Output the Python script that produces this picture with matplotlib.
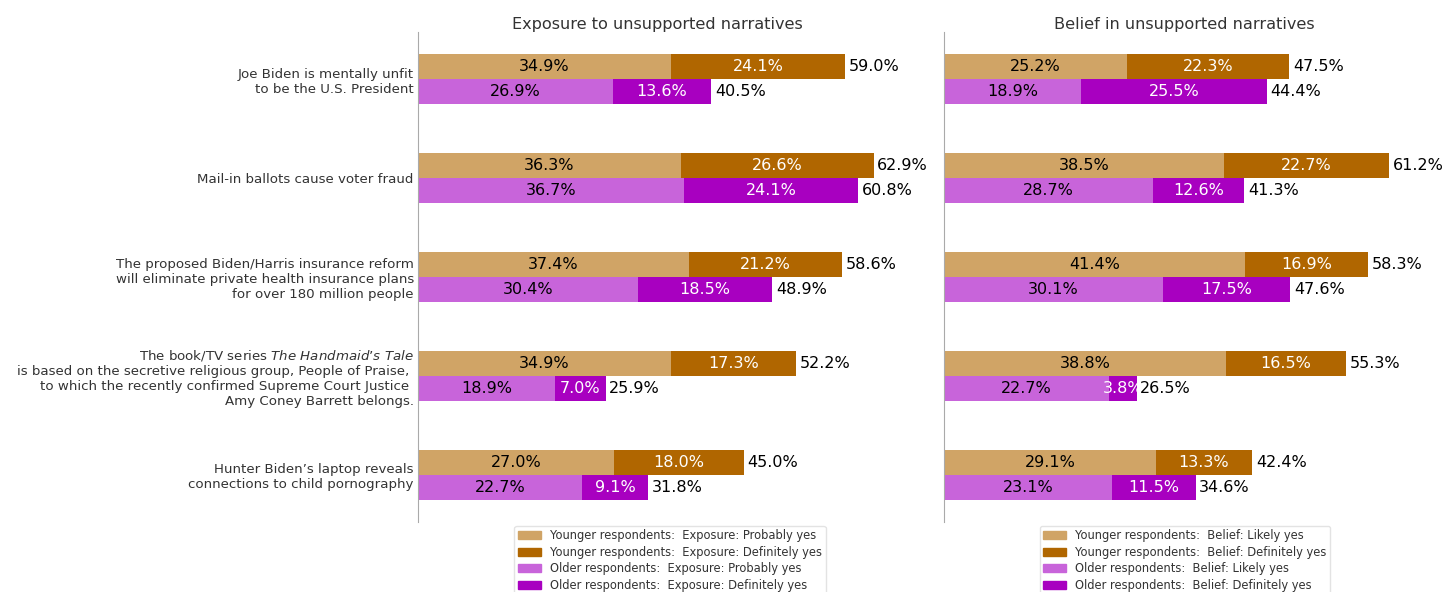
import matplotlib
matplotlib.use("Agg")
import matplotlib.pyplot as plt
from matplotlib.patches import Patch
import numpy as np

plt.rcParams['font.family'] = ['DejaVu Sans']
plt.rcParams['mathtext.fontset'] = 'dejavusans'

categories = [
    "Joe Biden is mentally unfit\nto be the U.S. President",
    "Mail-in ballots cause voter fraud",
    "The proposed Biden/Harris insurance reform\nwill eliminate private health insurance plans\nfor over 180 million people",
    "The book/TV series $\\it{The\\ Handmaid’s\\ Tale}$\nis based on the secretive religious group, People of Praise, \nto which the recently confirmed Supreme Court Justice \nAmy Coney Barrett belongs.",
    "Hunter Biden’s laptop reveals\nconnections to child pornography",
]

exp_young_prob = [34.9, 36.3, 37.4, 34.9, 27.0]
exp_young_def = [24.1, 26.6, 21.2, 17.3, 18.0]
exp_young_total = [59.0, 62.9, 58.6, 52.2, 45.0]
exp_old_prob = [26.9, 36.7, 30.4, 18.9, 22.7]
exp_old_def = [13.6, 24.1, 18.5, 7.0, 9.1]
exp_old_total = [40.5, 60.8, 48.9, 25.9, 31.8]

bel_young_prob = [25.2, 38.5, 41.4, 38.8, 29.1]
bel_young_def = [22.3, 22.7, 16.9, 16.5, 13.3]
bel_young_total = [47.5, 61.2, 58.3, 55.3, 42.4]
bel_old_prob = [18.9, 28.7, 30.1, 22.7, 23.1]
bel_old_def = [25.5, 12.6, 17.5, 3.8, 11.5]
bel_old_total = [44.4, 41.3, 47.6, 26.5, 34.6]

titles = ["Exposure to unsupported narratives", "Belief in unsupported narratives"]
legend_labels = [
    ["Younger respondents:  Exposure: Probably yes",
     "Younger respondents:  Exposure: Definitely yes",
     "Older respondents:  Exposure: Probably yes",
     "Older respondents:  Exposure: Definitely yes"],
    ["Younger respondents:  Belief: Likely yes",
     "Younger respondents:  Belief: Definitely yes",
     "Older respondents:  Belief: Likely yes",
     "Older respondents:  Belief: Definitely yes"],
]

c_yp = "#D0A466"
c_yd = "#B06600"
c_op = "#C864DA"
c_od = "#A800C0"

fig = plt.figure(figsize=(14.43, 5.92), dpi=100)
ax1 = fig.add_axes([418/1443, 1-522/592, 478/1443, 490/592])
ax2 = fig.add_axes([944/1443, 1-522/592, 480/1443, 490/592])

y = np.arange(len(categories))
h = 0.25
lab_fs = 11.5

panels = [
    (ax1, exp_young_prob, exp_young_def, exp_young_total, exp_old_prob, exp_old_def, exp_old_total),
    (ax2, bel_young_prob, bel_young_def, bel_young_total, bel_old_prob, bel_old_def, bel_old_total),
]

for i, (ax, yp, yd, yt, op, od, ot) in enumerate(panels):
    yy = y - h/2
    yo = y + h/2
    ax.barh(yy, yp, height=h, color=c_yp)
    ax.barh(yy, yd, left=yp, height=h, color=c_yd)
    ax.barh(yo, op, height=h, color=c_op)
    ax.barh(yo, od, left=op, height=h, color=c_od)
    for k in range(len(categories)):
        ax.text(yp[k]/2, yy[k], f"{yp[k]:.1f}%", ha='center', va='center', fontsize=lab_fs, color='black')
        ax.text(yp[k] + yd[k]/2, yy[k], f"{yd[k]:.1f}%", ha='center', va='center', fontsize=lab_fs, color='white')
        ax.text(yp[k] + yd[k] + 0.5, yy[k], f"{yt[k]:.1f}%", ha='left', va='center', fontsize=lab_fs, color='black')
        ax.text(op[k]/2, yo[k], f"{op[k]:.1f}%", ha='center', va='center', fontsize=lab_fs, color='black')
        ax.text(op[k] + od[k]/2, yo[k], f"{od[k]:.1f}%", ha='center', va='center', fontsize=lab_fs, color='white')
        ax.text(op[k] + od[k] + 0.5, yo[k], f"{ot[k]:.1f}%", ha='left', va='center', fontsize=lab_fs, color='black')
    ax.set_xlim(0, 66)
    ax.set_ylim(len(categories) - 1 + 0.475, -0.475)
    ax.set_xticks([])
    for s in ['top', 'right', 'bottom']:
        ax.spines[s].set_visible(False)
    ax.spines['left'].set_color('#aaaaaa')
    ax.set_title(titles[i], fontsize=11.6, color='#333333', pad=2)
    handles = [Patch(color=c) for c in (c_yp, c_yd, c_op, c_od)]
    lx = 0.527 if i == 0 else 0.502
    leg = ax.legend(handles, legend_labels[i], loc='upper center', bbox_to_anchor=(lx, -0.008),
                    borderaxespad=0, fontsize=8.3, frameon=True, handlelength=2, handleheight=0.7,
                    labelspacing=0.3, borderpad=0.3)
    leg.get_frame().set_edgecolor('#dddddd')
    for t in leg.get_texts():
        t.set_color('#333333')

ax1.set_yticks(y)
ax1.set_yticklabels(categories, fontsize=9.65, color='#333333')
ax1.tick_params(axis='y', length=0, pad=3)
ax2.set_yticks([])

fig.savefig("out.png", dpi=100)
